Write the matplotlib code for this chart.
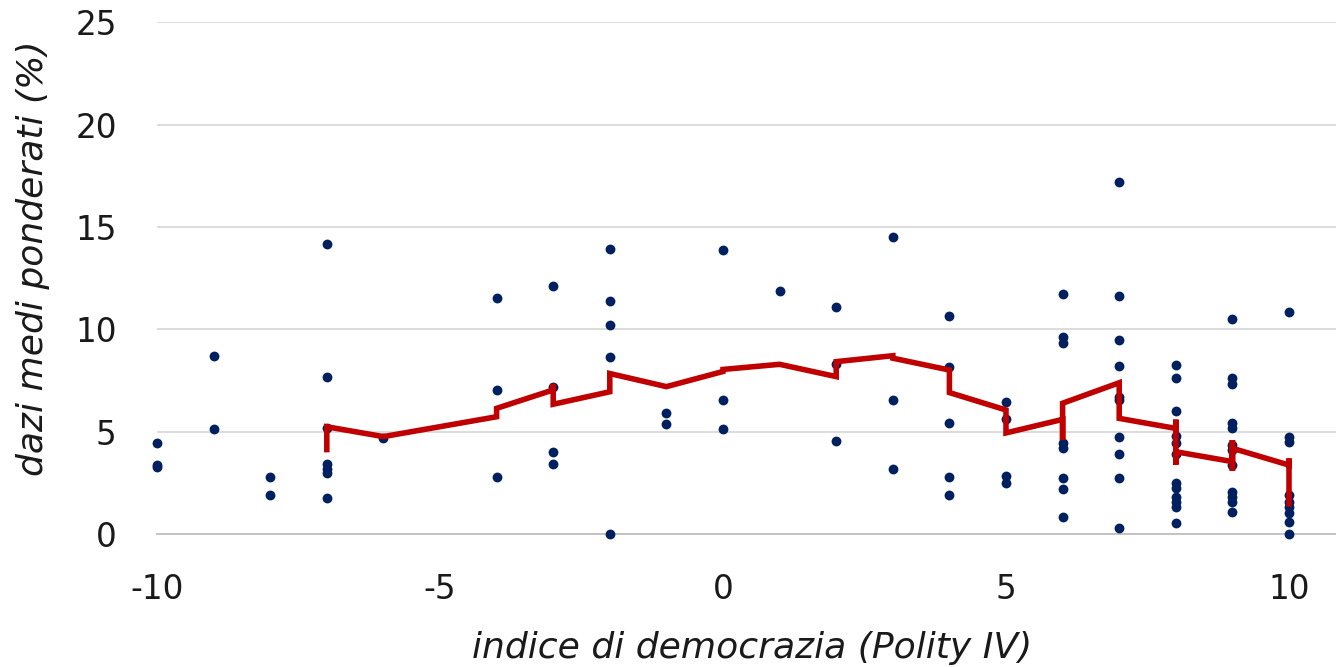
import matplotlib
matplotlib.use("Agg")
import matplotlib.pyplot as plt

plt.rcParams['font.family'] = ['DejaVu Sans']
plt.rcParams['axes.unicode_minus'] = False

# Polity IV score and weighted average tariff (%) per country
polity = [-10, -10, -10,
          -9, -9,
          -8, -8,
          -7, -7, -7, -7, -7, -7, -7,
          -6,
          -4, -4, -4,
          -3, -3, -3, -3,
          -2, -2, -2, -2, -2,
          -1, -1,
          0, 0, 0,
          1,
          2, 2, 2,
          3, 3, 3,
          4, 4, 4, 4, 4,
          5, 5, 5, 5,
          6, 6, 6, 6, 6, 6, 6, 6,
          7, 7, 7, 7, 7, 7, 7, 7, 7, 7,
          8, 8, 8, 8, 8, 8, 8, 8, 8, 8, 8, 8,
          9, 9, 9, 9, 9, 9, 9, 9, 9, 9, 9, 9,
          10, 10, 10, 10, 10, 10, 10, 10, 10]
tariff = [4.44, 3.40, 3.30,
          8.72, 5.16,
          2.81, 1.90,
          14.19, 7.67, 5.17, 3.42, 3.18, 2.98, 1.79,
          4.72,
          11.55, 7.03, 2.80,
          12.14, 7.18, 4.00, 3.45,
          13.92, 11.41, 10.23, 8.66, 0.0,
          5.92, 5.39,
          13.88, 6.54, 5.12,
          11.88,
          11.11, 8.30, 4.56,
          14.53, 6.54, 3.20,
          10.66, 8.18, 5.43, 2.80, 1.92,
          6.46, 5.61, 2.85, 2.52,
          11.75, 9.65, 9.36, 4.44, 4.21, 2.76, 2.23, 0.86,
          17.22, 11.64, 9.50, 8.20, 6.72, 6.56, 4.74, 3.94, 2.76, 0.29,
          8.27, 7.65, 6.04, 4.78, 4.46, 3.90, 2.52, 2.25, 1.80, 1.59, 1.35, 0.55,
          10.53, 7.62, 7.34, 5.45, 5.17, 4.36, 4.12, 3.38, 2.08, 1.84, 1.59, 1.10,
          10.87, 4.77, 4.52, 1.92, 1.59, 1.35, 1.02, 0.62, 0.0]

# moving-average trend line vertices (x sorted)
trend_x = [-7, -7, -6, -4, -4, -3, -3, -3, -2, -2, -1, 0, 0, 1, 2, 2, 3, 3,
           4, 4, 5, 5, 6, 6, 6, 7, 7, 8, 8, 8, 8, 9, 9, 9, 9, 10, 10, 10]
trend_y = [4.0, 5.25, 4.77, 5.74, 6.15, 7.05, 7.35, 6.35, 6.96, 7.85, 7.21, 7.95, 8.05,
           8.30, 7.70, 8.43, 8.72, 8.60, 8.02, 6.92, 6.07, 4.95, 5.61, 4.60, 6.40,
           7.40, 5.66, 5.17, 5.60, 3.40, 4.03, 3.55, 4.60, 3.10, 4.20, 3.38, 3.70, 1.35]

fig = plt.figure(figsize=(13.36, 6.67), dpi=100)
ax = fig.add_axes([157/1336, (667-534.3)/667, 1 - 157/1336, (534.3-22.3)/667])

ax.scatter(polity, tariff, s=50, color='#002060', zorder=3, clip_on=False, linewidths=0)
ax.plot(trend_x, trend_y, color='#C00000', linewidth=4, zorder=4,
        solid_joinstyle='miter', solid_capstyle='butt')

ax.set_xlim(-10, 10 + (1336-1289)/56.6)
ax.set_ylim(0, 25)
ax.set_xticks([-10, -5, 0, 5, 10])
ax.set_yticks([0, 5, 10, 15, 20, 25])
ax.grid(axis='y', color='#D9D9D9', linewidth=1.3)
ax.set_axisbelow(True)
for s in ['top', 'right', 'left']:
    ax.spines[s].set_visible(False)
ax.spines['bottom'].set_color('#BFBFBF')
ax.spines['bottom'].set_linewidth(1.3)
ax.tick_params(axis='both', length=0, labelsize=23.5, labelcolor='#1a1a1a')
ax.tick_params(axis='x', pad=28)
ax.tick_params(axis='y', pad=29)

ax.set_xlabel('indice di democrazia (Polity IV)', fontsize=26, style='italic',
              color='#1a1a1a', va='center')
ax.xaxis.set_label_coords(0.505, -0.222)
ax.set_ylabel('dazi medi ponderati (%)', fontsize=26, style='italic',
              color='#1a1a1a', va='center')
ax.yaxis.set_label_coords(-0.105, 0.54)

fig.savefig('out.png', dpi=100)
